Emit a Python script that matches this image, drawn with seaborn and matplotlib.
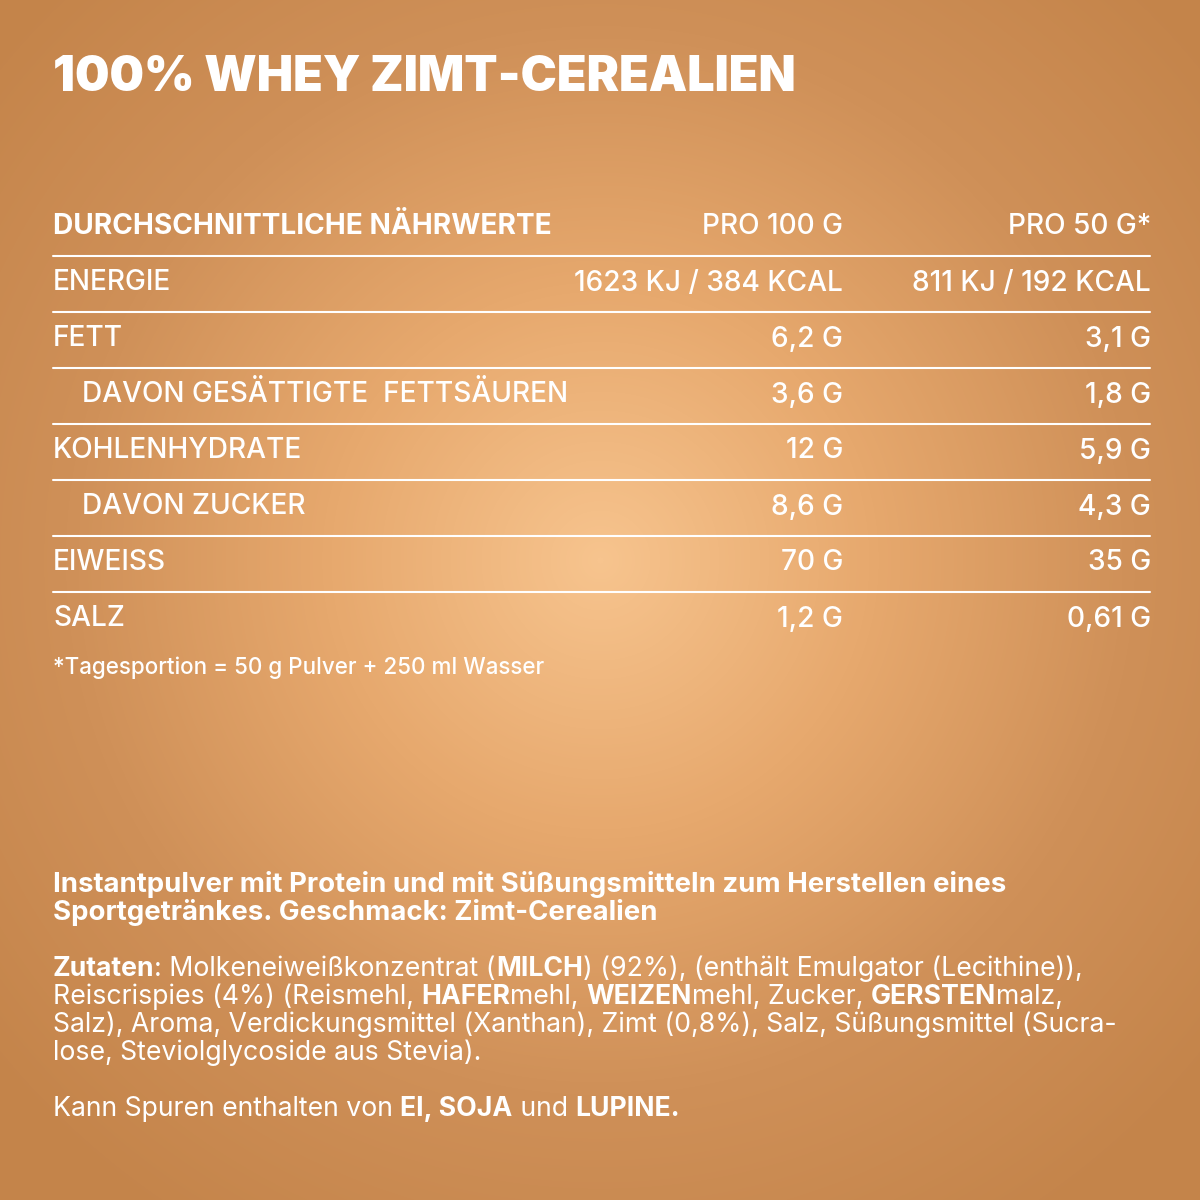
import numpy as np
import matplotlib
matplotlib.use("Agg")
import matplotlib.pyplot as plt
import seaborn as sns
from matplotlib.colors import LinearSegmentedColormap

sns.set_theme(style="white")
plt.rcParams['font.family'] = ['Inter', 'DejaVu Sans']

title = "100% WHEY ZIMT-CEREALIEN"
header = ["DURCHSCHNITTLICHE NÄHRWERTE", "PRO 100 G", "PRO 50 G*"]
nutrients = ["ENERGIE", "FETT", "DAVON GESÄTTIGTE  FETTSÄUREN", "KOHLENHYDRATE",
             "DAVON ZUCKER", "EIWEISS", "SALZ"]
indent = [False, False, True, False, True, False, False]
per100 = ["1623 KJ / 384 KCAL", "6,2 G", "3,6 G", "12 G", "8,6 G", "70 G", "1,2 G"]
per50 = ["811 KJ / 192 KCAL", "3,1 G", "1,8 G", "5,9 G", "4,3 G", "35 G", "0,61 G"]
footnote = "*Tagesportion = 50 g Pulver + 250 ml Wasser"
desc = ["Instantpulver mit Protein und mit Süßungsmitteln zum Herstellen eines",
        "Sportgetränkes. Geschmack: Zimt-Cerealien"]
ingredients = [
    [("Zutaten", True), (": Molkeneiweißkonzentrat (", False), ("MILCH", True),
     (") (92%), (enthält Emulgator (Lecithine)),", False)],
    [("Reiscrispies (4%) (Reismehl, ", False), ("HAFER", True), ("mehl, ", False),
     ("WEIZEN", True), ("mehl, Zucker, ", False), ("GERSTEN", True), ("malz,", False)],
    [("Salz), Aroma, Verdickungsmittel (Xanthan), Zimt (0,8%), Salz, Süßungsmittel (Sucra-", False)],
    [("lose, Steviolglycoside aus Stevia).", False)],
]
traces = [("Kann Spuren enthalten von ", False), ("EI, SOJA", True), (" und ", False), ("LUPINE.", True)]

fig = plt.figure(figsize=(12, 12), dpi=100)
ax = fig.add_axes([0, 0, 1, 1])
ax.set_xlim(0, 1200); ax.set_ylim(1200, 0); ax.axis("off")

yy, xx = np.mgrid[0:1200, 0:1200]
r = np.sqrt(((xx - 600) / 800) ** 2 + ((yy - 560) / 800) ** 2)
cmap = LinearSegmentedColormap.from_list("bg", ["#F7C48E", "#E7A96E", "#CF9058", "#C4844A"])
ax.imshow(np.clip(r, 0, 1), cmap=cmap, extent=(0, 1200, 1200, 0), vmin=0, vmax=1, zorder=0)

W = "white"
fig.canvas.draw()
rend = fig.canvas.get_renderer()

def fit(t, width):
    # scale font so text spans the reference width
    bb = t.get_window_extent(rend)
    t.set_fontsize(t.get_fontsize() * width / bb.width)

t = ax.text(53, 78, title, color=W, fontsize=34, fontweight="black", va="center")
fit(t, 744)

TS = 18
h = ax.text(53, 227, header[0], color=W, fontsize=TS, fontweight="bold", va="center")
fit(h, 497)
TS = h.get_fontsize()
ax.text(843, 227, header[1], color=W, fontsize=TS, fontweight="medium", va="center", ha="right")
ax.text(1151, 227, header[2], color=W, fontsize=TS, fontweight="medium", va="center", ha="right")
for i, (n, ind, a, b) in enumerate(zip(nutrients, indent, per100, per50)):
    y = 283 + 56 * i
    ax.plot([53, 1150], [y - 27, y - 27], color=W, lw=1.5)
    ax.text(82 if ind else 53, y, n, color=W, fontsize=TS, fontweight="medium", va="center")
    ax.text(843, y, a, color=W, fontsize=TS, fontweight="medium", va="center", ha="right")
    ax.text(1151, y, b, color=W, fontsize=TS, fontweight="medium", va="center", ha="right")
f = ax.text(53, 668, footnote, color=W, fontsize=15, fontweight="medium", va="center")
fit(f, 492)

d0 = ax.text(53, 885, desc[0], color=W, fontsize=18, fontweight="bold", va="center")
fit(d0, 949)
DS = d0.get_fontsize()
ax.text(53, 913, desc[1], color=W, fontsize=DS, fontweight="bold", va="center")

probe = ax.text(0, 0, ingredients[2][0][0], fontsize=18)
fit(probe, 1064)
BS = probe.get_fontsize()
probe.remove()

def segs(parts, y):
    x = 53
    for s, bold in parts:
        t = ax.text(x, y, s, color=W, fontsize=BS, va="center",
                    fontweight="bold" if bold else "normal")
        x += t.get_window_extent(rend).width

for i, line in enumerate(ingredients):
    segs(line, 969 + 28 * i)
segs(traces, 1109)

fig.savefig("out.png", dpi=100)
